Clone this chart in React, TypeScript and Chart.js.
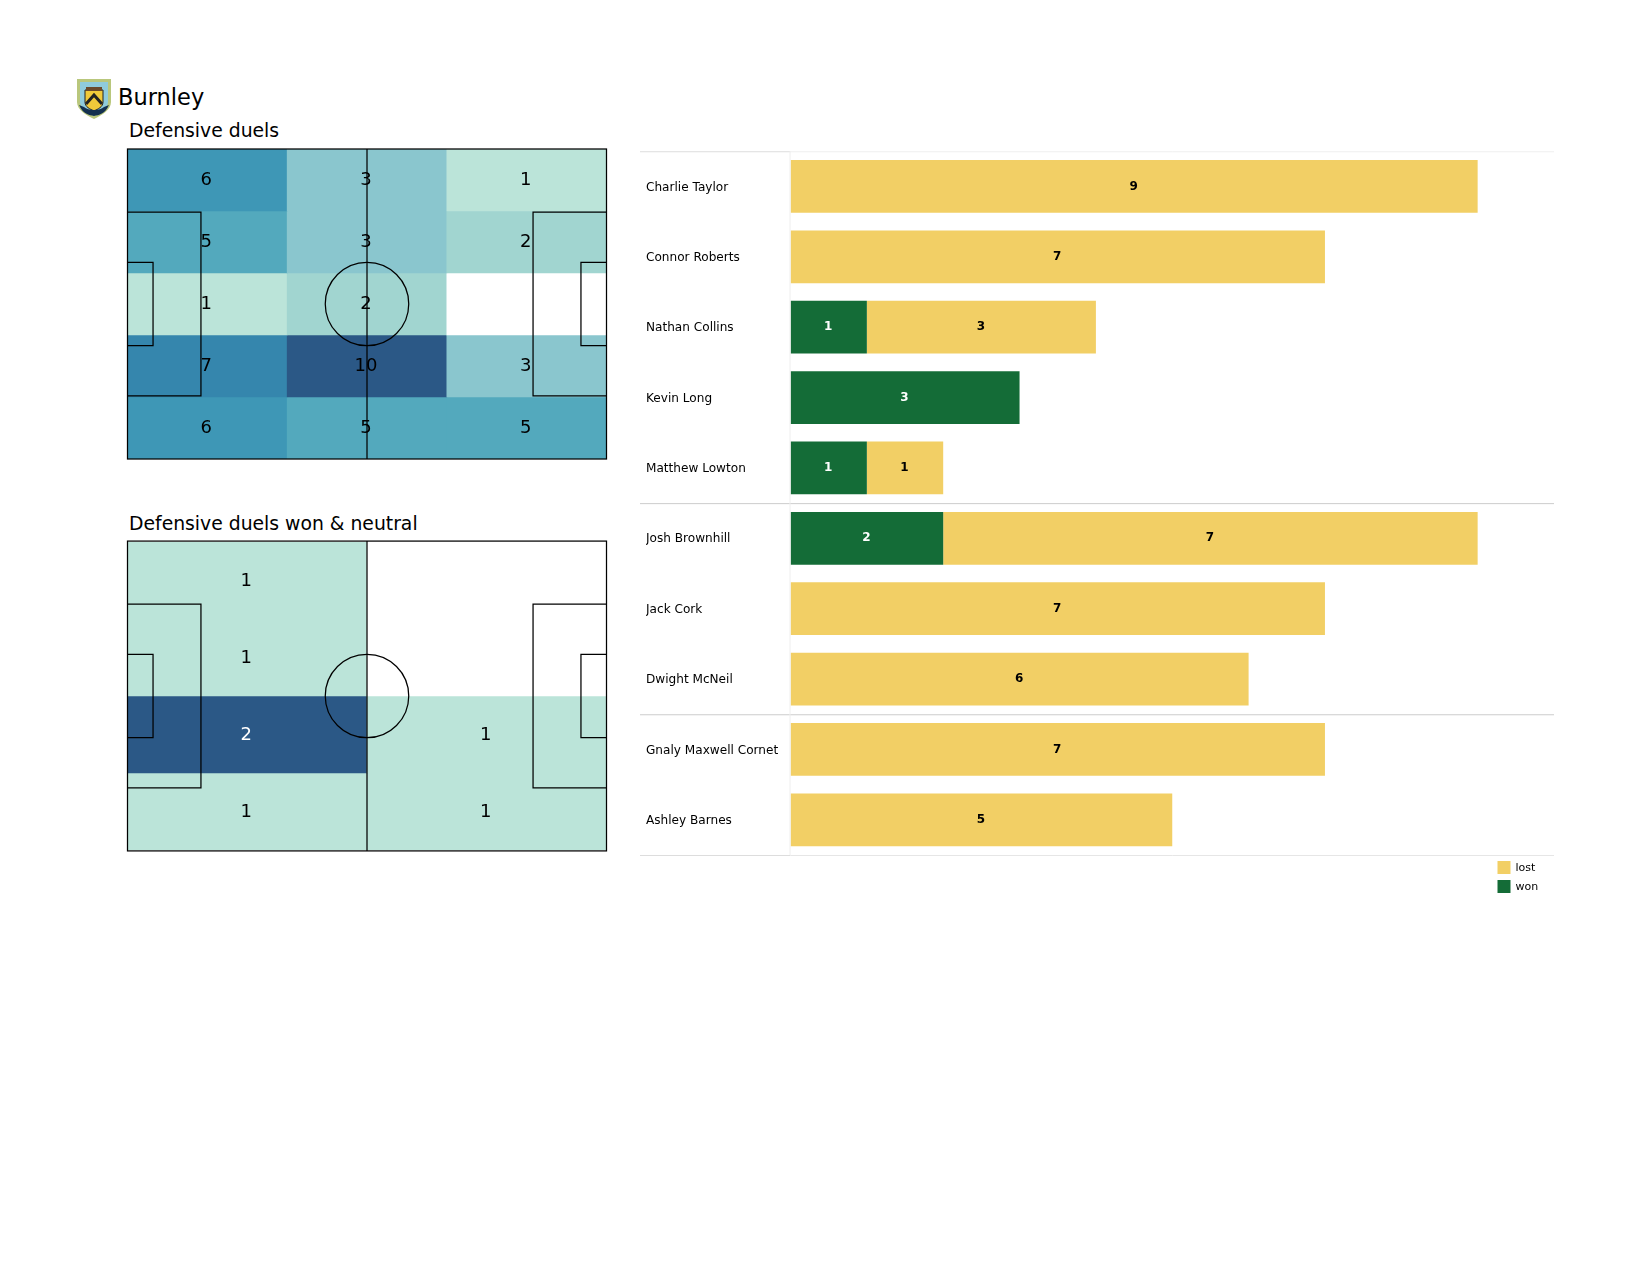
import React, { useEffect, useRef } from "react";
import { Chart, registerables } from "chart.js";

Chart.register(...registerables);

const FONT = '"DejaVu Sans", sans-serif';

const duelColumns = ["left", "middle", "right"];
const duelCounts = [
  [6, 3, 1],
  [5, 3, 2],
  [1, 2, 0],
  [7, 10, 3],
  [6, 5, 5],
];
const wonColumns = ["left", "right"];
const wonCounts = [
  [1, 0],
  [1, 0],
  [2, 1],
  [1, 1],
];
const duelShades: Record<number, string> = {
  0: "#ffffff",
  1: "#bbe4d9",
  2: "#a1d5d0",
  3: "#8ac6ce",
  5: "#53a9bd",
  6: "#3e97b6",
  7: "#3586ad",
  10: "#2b5886",
};
const wonShades: Record<number, string> = {
  0: "#ffffff",
  1: "#bbe4d9",
  2: "#2b5886",
};

const players = [
  "Charlie Taylor",
  "Connor Roberts",
  "Nathan Collins",
  "Kevin Long",
  "Matthew Lowton",
  "Josh Brownhill",
  "Jack Cork",
  "Dwight McNeil",
  "Gnaly Maxwell Cornet",
  "Ashley Barnes",
];
const wonValues = [0, 0, 1, 3, 1, 2, 0, 0, 0, 0];
const lostValues = [9, 7, 3, 0, 1, 7, 7, 6, 7, 5];
const groupEnds = [5, 8];

// Pitch measures, in metres
const PITCH_L = 105;
const PITCH_W = 68;
const BOX_D = 16.1;
const BOX_W = 40.3;
const SIX_D = 5.6;
const SIX_W = 18.3;
const CIRCLE_R = 9.15;

const pitchPlugin = (shades: Record<number, string>, counts: number[][]) => ({
  id: "pitch",
  afterDraw(chart: any) {
    const { ctx, scales } = chart;
    const X = (v: number) => scales.xp.getPixelForValue(v);
    const Y = (v: number) => scales.yp.getPixelForValue(v);
    ctx.save();
    ctx.strokeStyle = "#000000";
    ctx.lineWidth = 1.25;
    const rect = (x0: number, y0: number, x1: number, y1: number) => {
      ctx.strokeRect(X(x0), Y(y0), X(x1) - X(x0), Y(y1) - Y(y0));
    };
    const openRect = (xEdge: number, xIn: number, w: number) => {
      const a = (PITCH_W - w) / 2;
      const b = (PITCH_W + w) / 2;
      ctx.beginPath();
      ctx.moveTo(X(xEdge), Y(a));
      ctx.lineTo(X(xIn), Y(a));
      ctx.lineTo(X(xIn), Y(b));
      ctx.lineTo(X(xEdge), Y(b));
      ctx.stroke();
    };
    rect(0, 0, PITCH_L, PITCH_W);
    ctx.beginPath();
    ctx.moveTo(X(PITCH_L / 2), Y(0));
    ctx.lineTo(X(PITCH_L / 2), Y(PITCH_W));
    ctx.stroke();
    openRect(0, BOX_D, BOX_W);
    openRect(0, SIX_D, SIX_W);
    openRect(PITCH_L, PITCH_L - BOX_D, BOX_W);
    openRect(PITCH_L, PITCH_L - SIX_D, SIX_W);
    ctx.beginPath();
    ctx.arc(X(PITCH_L / 2), Y(PITCH_W / 2), X(CIRCLE_R) - X(0), 0, Math.PI * 2);
    ctx.stroke();

    ctx.font = `18px ${FONT}`;
    ctx.textAlign = "center";
    ctx.textBaseline = "middle";
    const darkest = Math.max(...counts.flat());
    counts.forEach((row, r) => {
      const meta = chart.getDatasetMeta(r);
      row.forEach((value, c) => {
        if (!value) return;
        const el = meta.data[c];
        ctx.fillStyle = shades === wonShades && value === darkest ? "#ffffff" : "#000000";
        ctx.fillText(String(value), el.x - 1, (el.y + el.base) / 2 + 0.5);
      });
    });
    ctx.restore();
  },
});

function Heat({
  style,
  columns,
  counts,
  shades,
  padding,
  bleed = 0,
}: {
  style: React.CSSProperties;
  columns: string[];
  counts: number[][];
  shades: Record<number, string>;
  padding: any;
  bleed?: number;
}) {
  const ref = useRef<HTMLCanvasElement>(null);
  useEffect(() => {
    const chart = new Chart(ref.current as HTMLCanvasElement, {
      type: "bar",
      data: {
        labels: columns,
        datasets: counts.map((row, r) => ({
          label: `row ${r + 1}`,
          data: row.map(() => [r, r + 1]),
          backgroundColor: row.map((v) => shades[v]),
          borderWidth: 0,
          barPercentage: 1,
          categoryPercentage: 1,
          xAxisID: "x",
          yAxisID: "y",
        })),
      } as any,
      options: {
        animation: false,
        responsive: false,
        layout: { padding },
        plugins: { legend: { display: false }, tooltip: { enabled: false } },
        scales: {
          x: { display: false, stacked: true, grid: { display: false } },
          y: { display: false, stacked: false, reverse: true, min: 0, max: counts.length, grid: { display: false } },
          xp: { display: false, type: "linear", axis: "x", offset: false, min: 0, max: PITCH_L },
          yp: { display: false, type: "linear", axis: "y", offset: false, reverse: true, min: bleed, max: PITCH_W - bleed },
        },
      } as any,
      plugins: [pitchPlugin(shades, counts)],
    });
    return () => chart.destroy();
  }, []);
  return <canvas ref={ref} width={style.width as number} height={style.height as number} style={{ position: "absolute", ...style }} />;
}

const barOverlay = {
  id: "barOverlay",
  afterDraw(chart: any) {
    const { ctx, scales, chartArea, data } = chart;
    const rowH = (chartArea.bottom - chartArea.top) / players.length;
    ctx.save();
    // rules
    const hline = (y: number, x0: number, x1: number, color: string) => {
      ctx.strokeStyle = color;
      ctx.lineWidth = 1;
      ctx.beginPath();
      ctx.moveTo(x0, y + 0.5);
      ctx.lineTo(x1, y + 0.5);
      ctx.stroke();
    };
    const outer = 0;
    hline(chartArea.top, outer, chartArea.left, "#dddddd");
    hline(chartArea.top, chartArea.left, chartArea.right, "#efefef");
    hline(chartArea.bottom, outer, chartArea.left, "#dddddd");
    hline(chartArea.bottom, chartArea.left, chartArea.right, "#e6e6e6");
    groupEnds.forEach((n) => hline(chartArea.top + n * rowH, outer, chartArea.right, "#cccccc"));
    ctx.strokeStyle = "#eeeeee";
    ctx.beginPath();
    ctx.moveTo(chartArea.left - 0.5, chartArea.top);
    ctx.lineTo(chartArea.left - 0.5, chartArea.bottom);
    ctx.stroke();

    // values
    ctx.font = `bold 12px ${FONT}`;
    ctx.textAlign = "center";
    ctx.textBaseline = "middle";
    data.datasets.forEach((ds: any, i: number) => {
      const meta = chart.getDatasetMeta(i);
      ds.data.forEach((v: number, j: number) => {
        if (!v) return;
        const el = meta.data[j];
        ctx.fillStyle = ds.label === "won" ? "#ffffff" : "#000000";
        ctx.fillText(String(v), (el.x + el.base) / 2 - 0.5, el.y);
      });
    });

    // legend: lost first, then won
    const keyX = scales.x.getPixelForValue(9.26);
    [...data.datasets].reverse().forEach((ds: any, i: number) => {
      const top = chartArea.bottom + 6 + i * 19;
      ctx.fillStyle = ds.backgroundColor;
      ctx.fillRect(keyX, top, 13, 13);
      ctx.fillStyle = "#000000";
      ctx.font = `11px ${FONT}`;
      ctx.textAlign = "left";
      ctx.fillText(ds.label, keyX + 18, top + 7.5);
    });
    ctx.restore();
  },
};

function Bars({ style }: { style: React.CSSProperties }) {
  const ref = useRef<HTMLCanvasElement>(null);
  useEffect(() => {
    const chart = new Chart(ref.current as HTMLCanvasElement, {
      type: "bar",
      data: {
        labels: players,
        datasets: [
          { label: "won", data: wonValues, backgroundColor: "#146c37", borderWidth: 0, barPercentage: 1, categoryPercentage: 0.75 },
          { label: "lost", data: lostValues, backgroundColor: "#f2cf65", borderWidth: 0, barPercentage: 1, categoryPercentage: 0.75 },
        ],
      },
      options: {
        animation: false,
        responsive: false,
        indexAxis: "y",
        layout: { padding: { left: 6, right: 6, top: 2, bottom: 45 } },
        plugins: { legend: { display: false }, tooltip: { enabled: false } },
        scales: {
          x: { display: false, stacked: true, min: 0, max: 10, grid: { display: false } },
          y: {
            stacked: true,
            grid: { display: false },
            border: { display: false },
            afterFit: (axis: any) => {
              axis.width = 144.5;
            },
            ticks: {
              crossAlign: "far",
              color: "#000000",
              autoSkip: false,
              labelOffset: 1,
              font: { family: FONT, size: 12.1 },
            },
          },
        },
      } as any,
      plugins: [barOverlay],
    });
    return () => chart.destroy();
  }, []);
  return <canvas ref={ref} width={style.width as number} height={style.height as number} style={{ position: "absolute", ...style }} />;
}

function Crest() {
  return (
    <svg width={36} height={42} viewBox="0 0 36 42" style={{ position: "absolute", left: 76, top: 78 }}>
      <path d="M1 1 H35 V24 C35 32 26 37 18 41 C10 37 1 32 1 24 Z" fill="#b9c77c" />
      <path d="M4 4 H32 V24 C32 30 24 34 18 38 C12 34 4 30 4 24 Z" fill="#8fcbdc" />
      <path d="M9 12 H27 V24 C27 29 22 31 18 33 C14 31 9 29 9 24 Z" fill="#f0c93a" stroke="#222" strokeWidth="1" />
      <path d="M10 26 L18 17 L26 26" fill="none" stroke="#222" strokeWidth="3" />
      <rect x="10" y="9" width="16" height="4" fill="#6b4a2b" />
      <path d="M3 27 C7 36 13 37 18 38 C23 37 29 36 33 27 L28 29 C24 33 12 33 8 29 Z" fill="#14304f" />
    </svg>
  );
}

const textStyle = (left: number, top: number, size: number): React.CSSProperties => ({
  position: "absolute",
  left,
  top,
  fontFamily: FONT,
  fontSize: size,
  lineHeight: 1,
  color: "#000000",
  whiteSpace: "nowrap",
});

export default function App() {
  return (
    <div style={{ position: "absolute", left: 0, top: 0, width: 1650, height: 1275, overflow: "hidden", background: "#ffffff" }}>
      <Crest />
      <div style={textStyle(118, 86, 22.5)}>Burnley</div>
      <div style={textStyle(129, 122, 18.8)}>Defensive duels</div>
      <div style={textStyle(129, 515, 18.8)}>Defensive duels won &amp; neutral</div>
      <Heat
        style={{ left: 120, top: 140, width: 495, height: 330 }}
        columns={duelColumns}
        counts={duelCounts}
        shades={duelShades}
        padding={{ left: 7.5, right: 8.5, top: 9, bottom: 11 }}
      />
      <Heat
        style={{ left: 120, top: 533, width: 495, height: 330 }}
        columns={wonColumns}
        counts={wonCounts}
        shades={wonShades}
        padding={{ left: 7.5, right: 8.5, top: 9, bottom: 13 }}
        bleed={0.2}
      />
      <Bars style={{ left: 640, top: 141, width: 920, height: 759 }} />
    </div>
  );
}
